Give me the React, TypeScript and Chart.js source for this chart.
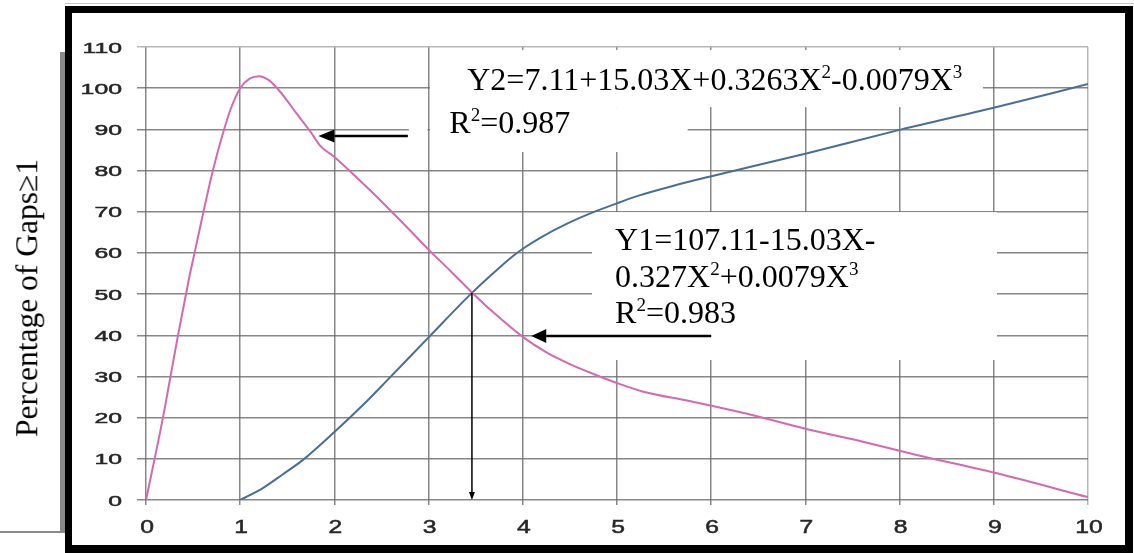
import React, { useEffect, useRef } from "react";
import { Chart, registerables } from "chart.js";

Chart.register(...registerables);

// ---- data ----
const xTicks = [0, 1, 2, 3, 4, 5, 6, 7, 8, 9, 10];
const yTicks = [0, 10, 20, 30, 40, 50, 60, 70, 80, 90, 100, 110];

// Y1 (pink)
const y1X = [0, 0.18, 0.26, 0.34, 0.45, 0.52, 0.61, 0.71, 0.81, 0.9, 1.0, 1.1, 1.2, 1.3, 1.4, 1.5, 1.6, 1.75, 1.85, 2.0, 2.25, 2.5, 2.75, 3.0, 3.25, 3.46, 3.69, 4.0, 4.26, 4.5, 4.75, 5.0, 5.28, 5.78, 6.37, 7.02, 7.6, 8.17, 9.01, 10];
const y1Y = [0, 20, 30, 40, 53, 60.5, 70, 80, 88.5, 95, 100, 102.3, 102.9, 102, 99.8, 96.9, 93.8, 89.3, 86, 83.3, 78, 72.5, 66.7, 60.8, 55.2, 50.4, 45.5, 39.6, 35.7, 33, 30.6, 28.4, 26.3, 24, 21, 17.2, 14.2, 11, 6.6, 0.7];

// Y2 (blue)
const y2X = [1.0, 1.24, 1.45, 1.67, 2.0, 2.3, 2.57, 3.0, 3.46, 3.76, 3.9, 4.0, 4.18, 4.47, 4.75, 5.03, 5.23, 5.6, 5.98, 7.02, 8.02, 9.01, 10];
const y2Y = [0, 2.9, 6.2, 9.8, 16.5, 23, 29.3, 39.5, 50.3, 56.6, 59.3, 61.0, 63.6, 67.1, 69.9, 72.3, 73.9, 76.3, 78.5, 84.2, 90, 95.3, 101];

// intersection marker (vertical arrow)
const crossX = 3.46;
const crossY = 50.3;

// equation texts
const y2Line1 = [
  { t: "Y2=7.11+15.03X+0.3263X" },
  { t: "2", sup: true },
  { t: "-0.0079X" },
  { t: "3", sup: true },
];
const y2Line2 = [{ t: "R" }, { t: "2", sup: true }, { t: "=0.987" }];
const y1Line1 = [{ t: "Y1=107.11-15.03X-" }];
const y1Line2 = [
  { t: "0.327X" },
  { t: "2", sup: true },
  { t: "+0.0079X" },
  { t: "3", sup: true },
];
const y1Line3 = [{ t: "R" }, { t: "2", sup: true }, { t: "=0.983" }];

const yTitle = "Percentage of Gaps≥1";

// annotation anchors (data units)
const whiteBoxes = [
  { x0: 3.015, x1: 8.885, y0: 95.4, y1: 109.3 },
  { x0: 3.015, x1: 5.75, y0: 84.5, y1: 95.4 },
  { x0: 2.79, x1: 2.99, y0: 86.9, y1: 90.3 },
  { x0: 4.735, x1: 9.034, y0: 34.0, y1: 69.9 },
];
const arrowTop = { x0: 2.78, x1: 1.83, y: 88.4 };
const arrowBottom = { x0: 6.0, x1: 4.09, y: 39.8 };
const textY2 = { x: 3.41, y1: 99.6, x2: 3.22, y2: 89.1 };
const textY1 = { x: 4.98, l1: 60.7, l2: 51.7, l3: 43.0 };

const PINK = "rgb(213,104,174)";
const BLUE = "rgb(72,110,152)";
const SERIF = "'Liberation Serif', 'Times New Roman', serif";
const SANS = "'Liberation Sans', Arial, sans-serif";

type Seg = { t: string; sup?: boolean };

function drawRich(ctx: CanvasRenderingContext2D, segs: Seg[], x: number, y: number, size: number) {
  let cx = x;
  ctx.textBaseline = "alphabetic";
  ctx.textAlign = "left";
  for (const s of segs) {
    if (s.sup) {
      ctx.font = `${Math.round(size * 0.6)}px ${SERIF}`;
      ctx.fillText(s.t, cx, y - size * 0.38);
    } else {
      ctx.font = `${size}px ${SERIF}`;
      ctx.fillText(s.t, cx, y);
    }
    cx += ctx.measureText(s.t).width;
  }
}

function drawStretched(ctx: CanvasRenderingContext2D, text: string, x: number, baseline: number, size: number, sx: number, align: CanvasTextAlign) {
  ctx.save();
  ctx.translate(x, baseline);
  ctx.scale(sx, 1);
  ctx.font = `${size}px ${SANS}`;
  ctx.textAlign = align;
  ctx.textBaseline = "alphabetic";
  ctx.fillStyle = "#262626";
  ctx.strokeStyle = "#262626";
  ctx.lineWidth = 0.5;
  ctx.fillText(text, 0, 0);
  ctx.strokeText(text, 0, 0);
  ctx.restore();
}

function arrow(ctx: CanvasRenderingContext2D, x0: number, y0: number, x1: number, y1: number, lw: number, hl: number, hw: number) {
  const ang = Math.atan2(y1 - y0, x1 - x0);
  const bx = x1 - Math.cos(ang) * hl;
  const by = y1 - Math.sin(ang) * hl;
  ctx.save();
  ctx.strokeStyle = "#000";
  ctx.fillStyle = "#000";
  ctx.lineWidth = lw;
  ctx.beginPath();
  ctx.moveTo(x0, y0);
  ctx.lineTo(bx, by);
  ctx.stroke();
  ctx.beginPath();
  ctx.moveTo(x1, y1);
  ctx.lineTo(bx + Math.sin(ang) * hw / 2, by - Math.cos(ang) * hw / 2);
  ctx.lineTo(bx - Math.sin(ang) * hw / 2, by + Math.cos(ang) * hw / 2);
  ctx.closePath();
  ctx.fill();
  ctx.restore();
}

const annotations = {
  id: "annotations",
  beforeDatasetsDraw(chart: any) {
    const { ctx, scales } = chart;
    const xs = scales.x, ys = scales.y;
    ctx.save();
    ctx.fillStyle = "#fff";
    for (const b of whiteBoxes) {
      const l = xs.getPixelForValue(b.x0), r = xs.getPixelForValue(b.x1);
      const t = ys.getPixelForValue(b.y1), bt = ys.getPixelForValue(b.y0);
      ctx.fillRect(l, t, r - l, bt - t);
    }
    ctx.restore();
  },
  afterDatasetsDraw(chart: any) {
    const { ctx, scales } = chart;
    const xs = scales.x, ys = scales.y;
    ctx.save();
    ctx.fillStyle = "#000";
    drawRich(ctx, y2Line1, xs.getPixelForValue(textY2.x), ys.getPixelForValue(textY2.y1), 32);
    drawRich(ctx, y2Line2, xs.getPixelForValue(textY2.x2), ys.getPixelForValue(textY2.y2), 32);
    drawRich(ctx, y1Line1, xs.getPixelForValue(textY1.x), ys.getPixelForValue(textY1.l1), 32);
    drawRich(ctx, y1Line2, xs.getPixelForValue(textY1.x), ys.getPixelForValue(textY1.l2), 32);
    drawRich(ctx, y1Line3, xs.getPixelForValue(textY1.x), ys.getPixelForValue(textY1.l3), 32);

    arrow(ctx, xs.getPixelForValue(arrowTop.x0), ys.getPixelForValue(arrowTop.y), xs.getPixelForValue(arrowTop.x1), ys.getPixelForValue(arrowTop.y), 2.5, 16, 13);
    arrow(ctx, xs.getPixelForValue(arrowBottom.x0), ys.getPixelForValue(arrowBottom.y), xs.getPixelForValue(arrowBottom.x1), ys.getPixelForValue(arrowBottom.y), 2.5, 15, 14);
    arrow(ctx, xs.getPixelForValue(crossX), ys.getPixelForValue(crossY), xs.getPixelForValue(crossX), ys.getPixelForValue(0), 1.5, 8, 6);
    ctx.restore();
  },
  afterDraw(chart: any) {
    const { ctx, scales, chartArea } = chart;
    const xs = scales.x, ys = scales.y;
    for (const v of yTicks) {
      const py = ys.getPixelForValue(v);
      drawStretched(ctx, String(v), chartArea.left - 24, py + 5.5, 15.5, 1.6, "right");
    }
    for (const v of xTicks) {
      const px = xs.getPixelForValue(v);
      drawStretched(ctx, String(v), px + 1, chartArea.bottom + 33, 19, 1.3, "center");
    }
  },
};

export default function App() {
  const ref = useRef<HTMLCanvasElement | null>(null);

  useEffect(() => {
    if (!ref.current) return;
    const gridColor = (edgeVal: number) => (c: any) =>
      c.tick && c.tick.value === edgeVal ? "rgba(175,175,180,0.9)" : "rgba(105,105,105,0.8)";
    const chart = new Chart(ref.current, {
      type: "line",
      data: {
        datasets: [
          {
            data: y1X.map((x, i) => ({ x, y: y1Y[i] })),
            borderColor: PINK,
            borderWidth: 2,
            pointRadius: 0,
            cubicInterpolationMode: "monotone",
            fill: false,
          },
          {
            data: y2X.map((x, i) => ({ x, y: y2Y[i] })),
            borderColor: BLUE,
            borderWidth: 2,
            pointRadius: 0,
            cubicInterpolationMode: "monotone",
            fill: false,
          },
        ],
      },
      options: {
        animation: false,
        responsive: false,
        devicePixelRatio: 1,
        layout: { padding: { left: 0, top: 47, right: 46, bottom: 0 } },
        plugins: { legend: { display: false }, tooltip: { enabled: false } },
        scales: {
          x: {
            type: "linear",
            min: 0,
            max: 10,
            afterBuildTicks: (s: any) => {
              s.ticks = xTicks.map((v) => ({ value: v }));
            },
            afterFit: (s: any) => {
              s.height = 53;
            },
            ticks: {
              font: { family: SANS, size: 12 },
              color: "rgba(0,0,0,0)",
              padding: 4,
              maxRotation: 0,
              autoSkip: false,
            },
            grid: { color: gridColor(10), lineWidth: 1.5, tickLength: 5 },
            border: { display: false },
          },
          y: {
            type: "linear",
            min: 0,
            max: 110,
            afterBuildTicks: (s: any) => {
              s.ticks = yTicks.map((v) => ({ value: v }));
            },
            afterFit: (s: any) => {
              s.width = 146;
            },
            ticks: {
              font: { family: SANS, size: 12 },
              color: "rgba(0,0,0,0)",
              padding: 4,
              autoSkip: false,
            },
            grid: { color: gridColor(110), lineWidth: 1.5, tickLength: 9 },
            border: { display: false },
          },
        },
      },
      plugins: [annotations],
    });
    return () => chart.destroy();
  }, []);

  return (
    <div style={{ position: "absolute", left: 0, top: 0, width: 1134, height: 553, background: "#fff", overflow: "hidden" }}>
      <canvas ref={ref} width={1134} height={553} style={{ position: "absolute", left: 0, top: 0, width: 1134, height: 553 }} />
      {/* faint line above frame */}
      <div style={{ position: "absolute", left: 65, top: 3, width: 1069, height: 1, background: "#c4c4c4" }} />
      {/* shadow of title box */}
      <div style={{ position: "absolute", left: 60, top: 52, width: 5, height: 481, background: "#8a8a8a" }} />
      <div style={{ position: "absolute", left: 0, top: 531, width: 63, height: 2, background: "#8a8a8a" }} />
      {/* frame */}
      <div style={{ position: "absolute", left: 65, top: 6, width: 1068, height: 547, boxSizing: "border-box", border: "7px solid #000", borderBottomWidth: 8, borderRightWidth: 8 }} />
      {/* y axis title */}
      <div
        style={{
          position: "absolute",
          left: 27,
          top: 298,
          transform: "translate(-50%, -50%) rotate(-90deg)",
          fontFamily: SERIF,
          fontSize: 31.5,
          whiteSpace: "nowrap",
          color: "#000",
          lineHeight: 1,
        }}
      >
        {yTitle}
      </div>
    </div>
  );
}
